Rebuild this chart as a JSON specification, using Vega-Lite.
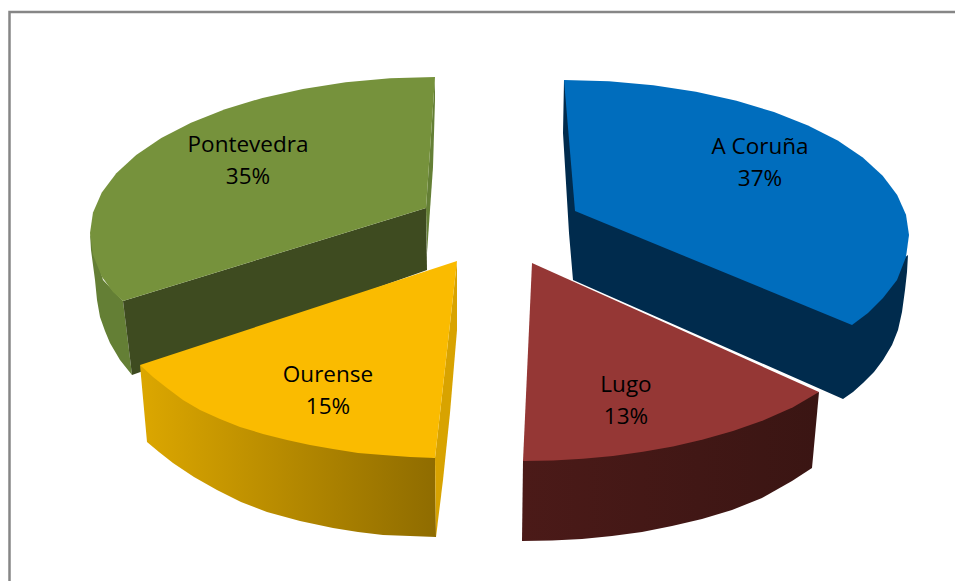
{"$schema":"https://vega.github.io/schema/vega-lite/v6.json","autosize":{"type":"none"},"width":955,"height":581,"padding":0,"background":"white","view":{"stroke":null},
"datasets":{
"frame":[{"i":1,"x":9.5,"y":581},{"i":2,"x":9.5,"y":12},{"i":3,"x":955,"y":12}],
"pSideOuter":[{"i":1,"x":90,"y":233},{"i":2,"x":91,"y":250},{"i":3,"x":93,"y":265},{"i":4,"x":95,"y":280},{"i":5,"x":97,"y":300},{"i":6,"x":100,"y":317},{"i":7,"x":105,"y":331},{"i":8,"x":110,"y":343},{"i":9,"x":120,"y":360},{"i":10,"x":132,"y":375},{"i":11,"x":123,"y":301},{"i":12,"x":103,"y":280}],
"pSliver":[{"i":1,"x":435,"y":77},{"i":2,"x":435,"y":100},{"i":3,"x":433,"y":167},{"i":4,"x":427,"y":253},{"i":5,"x":426,"y":208}],
"pWall":[{"i":1,"x":123,"y":301},{"i":2,"x":426,"y":208},{"i":3,"x":427,"y":270},{"i":4,"x":132,"y":375}],
"pTop":[{"i":1,"x":435,"y":77},{"i":2,"x":390,"y":78.3},{"i":3,"x":345.7,"y":82.3},{"i":4,"x":303,"y":88.9},{"i":5,"x":262.5,"y":97.9},{"i":6,"x":225,"y":109.2},{"i":7,"x":191,"y":122.7},{"i":8,"x":161.3,"y":138},{"i":9,"x":136.2,"y":155},{"i":10,"x":116.3,"y":173.3},{"i":11,"x":101.8,"y":192.6},{"i":12,"x":93,"y":212.6},{"i":13,"x":90,"y":233},{"i":14,"x":93,"y":255},{"i":15,"x":102,"y":277},{"i":16,"x":113,"y":292},{"i":17,"x":123,"y":301},{"i":18,"x":426,"y":208}],
"cDark":[{"i":1,"x":564,"y":80},{"i":2,"x":563,"y":133},{"i":3,"x":569,"y":233},{"i":4,"x":573,"y":280},{"i":5,"x":843,"y":399},{"i":6,"x":853,"y":392},{"i":7,"x":863,"y":383},{"i":8,"x":874,"y":372},{"i":9,"x":883,"y":360},{"i":10,"x":892,"y":345},{"i":11,"x":898,"y":330},{"i":12,"x":902,"y":312},{"i":13,"x":905,"y":290},{"i":14,"x":907,"y":272},{"i":15,"x":908,"y":255},{"i":16,"x":852,"y":300}],
"cTop":[{"i":1,"x":564,"y":80},{"i":2,"x":609,"y":81.3},{"i":3,"x":653.3,"y":85.3},{"i":4,"x":696,"y":91.8},{"i":5,"x":736.5,"y":100.8},{"i":6,"x":774,"y":112},{"i":7,"x":808,"y":125.4},{"i":8,"x":837.7,"y":140.6},{"i":9,"x":862.8,"y":157.5},{"i":10,"x":882.7,"y":175.7},{"i":11,"x":897.2,"y":194.9},{"i":12,"x":906,"y":214.8},{"i":13,"x":909,"y":235},{"i":14,"x":906,"y":257},{"i":15,"x":897,"y":280},{"i":16,"x":883,"y":298},{"i":17,"x":868,"y":313},{"i":18,"x":852,"y":325},{"i":19,"x":575,"y":211}],
"lSide":[{"i":1,"x":523,"y":461},{"i":2,"x":522,"y":541},{"i":3,"x":552,"y":540.4},{"i":4,"x":582,"y":539},{"i":5,"x":612,"y":536},{"i":6,"x":642,"y":532},{"i":7,"x":672,"y":526},{"i":8,"x":702,"y":519},{"i":9,"x":732,"y":510},{"i":10,"x":762,"y":498},{"i":11,"x":792,"y":481},{"i":12,"x":812,"y":468},{"i":13,"x":819,"y":392}],
"lTop":[{"i":1,"x":532,"y":263},{"i":2,"x":819,"y":392},{"i":3,"x":793,"y":407.2},{"i":4,"x":763,"y":420.4},{"i":5,"x":733,"y":431},{"i":6,"x":703,"y":439.5},{"i":7,"x":673,"y":446.4},{"i":8,"x":643,"y":451.8},{"i":9,"x":613,"y":455.9},{"i":10,"x":583,"y":458.8},{"i":11,"x":553,"y":460.4},{"i":12,"x":523,"y":461}],
"oSide":[{"i":1,"x":140,"y":365},{"i":2,"x":147,"y":442},{"i":3,"x":159,"y":452},{"i":4,"x":173,"y":463},{"i":5,"x":194,"y":477},{"i":6,"x":217,"y":490},{"i":7,"x":241,"y":502},{"i":8,"x":267,"y":512},{"i":9,"x":300,"y":521},{"i":10,"x":333,"y":528},{"i":11,"x":358,"y":532},{"i":12,"x":383,"y":535},{"i":13,"x":410,"y":536},{"i":14,"x":436,"y":537},{"i":15,"x":435,"y":458}],
"oSliver":[{"i":1,"x":457,"y":261},{"i":2,"x":457,"y":330},{"i":3,"x":450,"y":413},{"i":4,"x":443,"y":480},{"i":5,"x":436,"y":537},{"i":6,"x":435,"y":458}],
"oTop":[{"i":1,"x":457,"y":261},{"i":2,"x":140,"y":365},{"i":3,"x":153,"y":377},{"i":4,"x":167,"y":388},{"i":5,"x":183,"y":400},{"i":6,"x":200,"y":410},{"i":7,"x":220,"y":419},{"i":8,"x":240,"y":427},{"i":9,"x":263,"y":434},{"i":10,"x":287,"y":440},{"i":11,"x":310,"y":445},{"i":12,"x":333,"y":449},{"i":13,"x":358,"y":453},{"i":14,"x":383,"y":455},{"i":15,"x":410,"y":457},{"i":16,"x":435,"y":458}],
"labels":[{"name":"A Coruña","share":"37%","x":760,"y":163},{"name":"Lugo","share":"13%","x":626,"y":401},{"name":"Ourense","share":"15%","x":328,"y":391},{"name":"Pontevedra","share":"35%","x":248,"y":161}]
},
"encoding":{"x":{"field":"x","type":"quantitative","axis":null,"scale":{"domain":[0,955],"nice":false,"zero":false}},"y":{"field":"y","type":"quantitative","axis":null,"scale":{"domain":[581,0],"nice":false,"zero":false}},"order":{"field":"i","type":"quantitative"}},
"layer":[
{"data":{"name":"frame"},"mark":{"type":"line","stroke":"#868686","strokeWidth":2.5}},
{"data":{"name":"pSideOuter"},"mark":{"type":"line","fill":"#647f35","stroke":null}},
{"data":{"name":"pSliver"},"mark":{"type":"line","fill":"#647f35","stroke":null}},
{"data":{"name":"pWall"},"mark":{"type":"line","fill":"#3e4b20","stroke":null}},
{"data":{"name":"pTop"},"mark":{"type":"line","fill":"#76923c","stroke":null}},
{"data":{"name":"cDark"},"mark":{"type":"line","fill":"#002b4d","stroke":null}},
{"data":{"name":"cTop"},"mark":{"type":"line","fill":"#006dbd","stroke":null}},
{"data":{"name":"lSide"},"mark":{"type":"line","stroke":null,"fill":{"gradient":"linear","x1":0,"y1":0,"x2":1,"y2":0,"stops":[{"offset":0,"color":"#4b1a18"},{"offset":1,"color":"#3a1513"}]}}},
{"data":{"name":"lTop"},"mark":{"type":"line","fill":"#953735","stroke":null}},
{"data":{"name":"oSide"},"mark":{"type":"line","stroke":null,"fill":{"gradient":"linear","x1":0,"y1":0,"x2":1,"y2":0,"stops":[{"offset":0,"color":"#dca700"},{"offset":1,"color":"#8f6c00"}]}}},
{"data":{"name":"oSliver"},"mark":{"type":"line","fill":"#d8a300","stroke":null}},
{"data":{"name":"oTop"},"mark":{"type":"line","fill":"#fabb00","stroke":null}},
{"data":{"name":"labels"},"mark":{"type":"text","font":"Open Sans","fontSize":22.5,"color":"#000000","dy":-16},"encoding":{"text":{"field":"name"},"order":null}},
{"data":{"name":"labels"},"mark":{"type":"text","font":"Open Sans","fontSize":22.5,"color":"#000000","dy":16},"encoding":{"text":{"field":"share"},"order":null}}
]}
